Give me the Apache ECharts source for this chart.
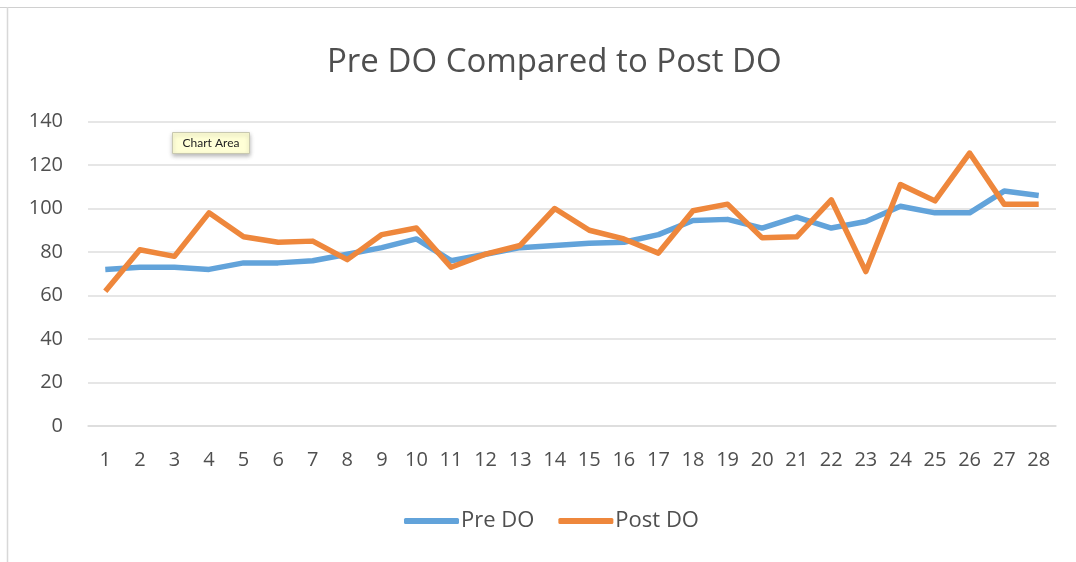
<!DOCTYPE html>
<html>
<head>
<meta charset="utf-8">
<script src="https://cdn.jsdelivr.net/npm/echarts@6/dist/echarts.min.js"></script>
<style>
html,body{margin:0;padding:0;background:#fff;}
#chart{width:1076px;height:562px;}
</style>
</head>
<body>
<div id="chart"></div>
<script>
var categories = ['1','2','3','4','5','6','7','8','9','10','11','12','13','14','15','16','17','18','19','20','21','22','23','24','25','26','27','28'];
var preDO  = [72, 73, 73, 72, 75, 75, 76, 79, 82, 86, 76, 79, 82, 83, 84, 84.5, 88, 94.5, 95, 91, 96, 91, 94, 101, 98, 98, 108, 106];
var postDO = [62, 81, 78, 98, 87, 84.5, 85, 76.5, 88, 91, 73, 79, 83, 100, 90, 86, 79.5, 99, 102, 86.5, 87, 104, 71, 111, 103.5, 125.5, 102, 102];
var yTicks = [0, 20, 40, 60, 80, 100, 120, 140];

var chart = echarts.init(document.getElementById('chart'), null, {renderer: 'canvas'});
var font = '"Open Sans", "Noto Sans", sans-serif';
var txt = '#4f4f4f';
chart.setOption({
  animation: false,
  backgroundColor: '#ffffff',
  title: {
    text: 'Pre DO Compared to Post DO',
    left: 322,
    top: 41,
    textStyle: {fontFamily: font, fontSize: 33, fontWeight: 'normal', color: txt}
  },
  legend: {
    bottom: 25,
    left: 399,
    icon: 'roundRect',
    itemWidth: 55,
    itemHeight: 6,
    itemGap: 24,
    textStyle: {fontFamily: font, fontSize: 22, color: txt, padding: [0,0,0,-3]},
    data: ['Pre DO', 'Post DO']
  },
  grid: {left: 88, right: 20, top: 121.5, bottom: 136, containLabel: false},
  xAxis: {
    type: 'category',
    data: categories,
    boundaryGap: true,
    axisLine: {show: true, lineStyle: {color: '#dcdcdc', width: 1.5}},
    axisTick: {show: false},
    axisLabel: {fontFamily: font, fontSize: 20, color: txt, margin: 24, interval: 0}
  },
  yAxis: {
    type: 'value',
    min: yTicks[0],
    max: yTicks[yTicks.length - 1],
    interval: 20,
    axisLine: {show: false},
    axisTick: {show: false},
    splitLine: {lineStyle: {color: '#dedede', width: 1.5}},
    axisLabel: {fontFamily: font, fontSize: 20, color: txt, margin: 25}
  },
  series: [
    {
      name: 'Pre DO',
      type: 'line',
      data: preDO,
      showSymbol: false,
      symbol: 'none',
      lineStyle: {width: 5.5, color: '#62A3DA', join: 'round'},
      itemStyle: {color: '#62A3DA'}
    },
    {
      name: 'Post DO',
      type: 'line',
      data: postDO,
      showSymbol: false,
      symbol: 'none',
      lineStyle: {width: 5.5, color: '#EE873C', join: 'round'},
      itemStyle: {color: '#EE873C'}
    }
  ],
  graphic: [
    {type: 'line', shape: {x1: 0, y1: 7.5, x2: 1076, y2: 7.5}, style: {stroke: '#d0d0d0', lineWidth: 1}},
    {type: 'line', shape: {x1: 7.5, y1: 7, x2: 7.5, y2: 562}, style: {stroke: '#d8d8d8', lineWidth: 1.5}},
    {
      type: 'group', left: 172, top: 132,
      children: [
        {type: 'rect', shape: {x: 0, y: 0, width: 77, height: 21},
         style: {fill: '#ffffd6', stroke: '#c8c8b0', lineWidth: 1, shadowBlur: 4, shadowOffsetY: 2, shadowColor: 'rgba(0,0,0,0.25)'}},
        {type: 'text', x: 38.5, y: 10.5,
         style: {text: 'Chart Area', fill: '#222', font: '12px "Lato", "DejaVu Sans", sans-serif', align: 'center', verticalAlign: 'middle'}}
      ]
    }
  ]
});
</script>
</body>
</html>
